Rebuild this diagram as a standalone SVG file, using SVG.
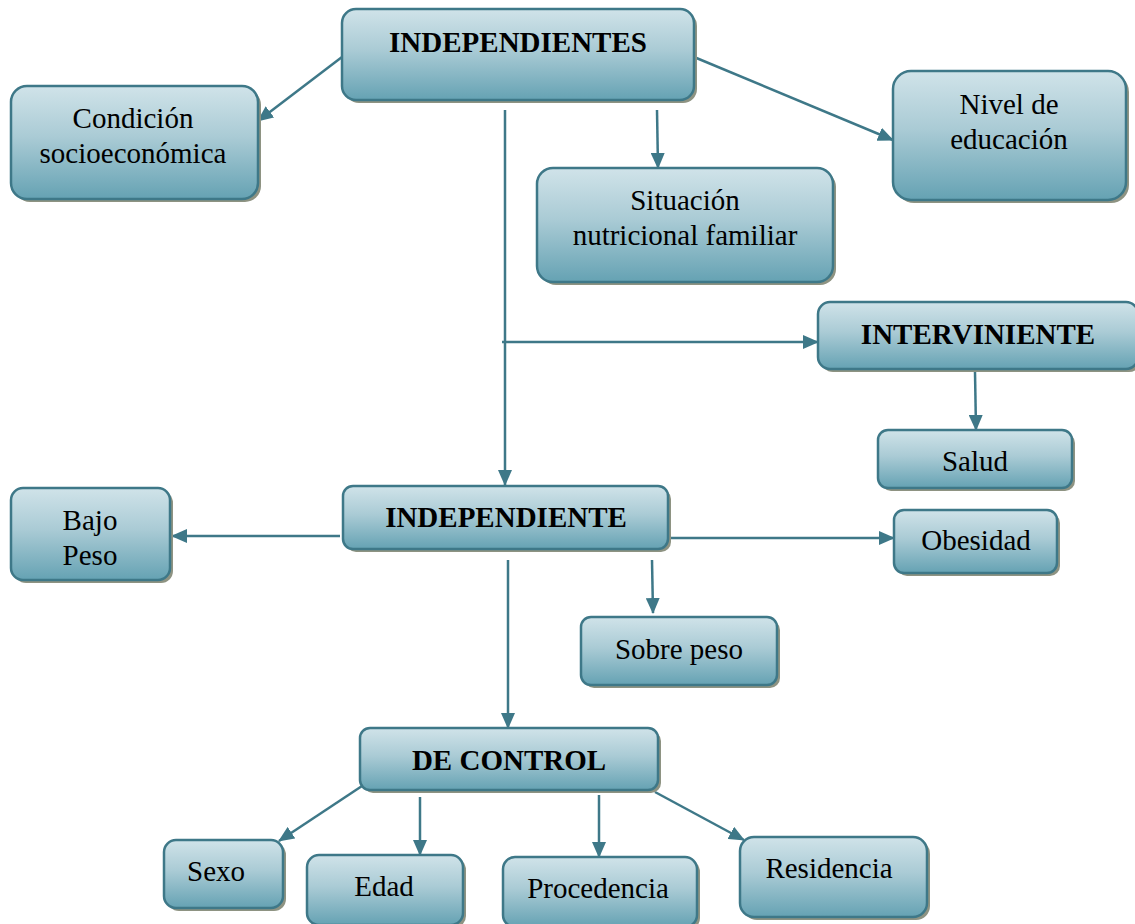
<svg xmlns="http://www.w3.org/2000/svg" width="1135" height="924" viewBox="0 0 1135 924">
<defs>
<linearGradient id="g" x1="0" y1="0" x2="0" y2="1">
<stop offset="0" stop-color="#d0e3e9"/>
<stop offset="0.45" stop-color="#aacbd5"/>
<stop offset="1" stop-color="#65a2b3"/>
</linearGradient>
<marker id="ah" markerWidth="16" markerHeight="14" refX="15" refY="7" orient="auto" markerUnits="userSpaceOnUse" viewBox="0 0 16 14">
<path d="M0,0 L16,7 L0,14 z" fill="#3e7888"/>
</marker>
</defs>
<style>
.box{fill:url(#g);stroke:#3e7888;stroke-width:2.5}
.sh{fill:#8e9382}
.t{font-family:"Liberation Serif","Times New Roman",serif;font-size:29px;fill:#000;text-anchor:middle}
.b{font-weight:bold;font-size:29px}
.c{stroke:#3e7888;stroke-width:2.5;fill:none;marker-end:url(#ah)}
</style>
<rect width="1135" height="924" fill="#fff"/>
<g id="connectors">
<line class="c" x1="342" y1="57" x2="258" y2="121"/>
<line class="c" x1="694" y1="57" x2="893" y2="140"/>
<line class="c" x1="657" y1="110" x2="658" y2="168"/>
<line class="c" x1="505" y1="110" x2="505" y2="485"/>
<line class="c" x1="502" y1="342" x2="818" y2="342"/>
<line class="c" x1="975" y1="372" x2="976" y2="430"/>
<line class="c" x1="340" y1="536" x2="172" y2="536"/>
<line class="c" x1="668" y1="538" x2="894" y2="538"/>
<line class="c" x1="652" y1="560" x2="653" y2="613"/>
<line class="c" x1="508" y1="560" x2="508" y2="728"/>
<line class="c" x1="362" y1="786" x2="279" y2="841"/>
<line class="c" x1="420" y1="797" x2="420" y2="855"/>
<line class="c" x1="599" y1="795" x2="599" y2="857"/>
<line class="c" x1="655" y1="792" x2="744" y2="840"/>
</g>
<g id="n-independientes">
<rect class="sh" x="345" y="12" width="352" height="91" rx="14"/>
<rect class="box" x="342" y="9" width="352" height="91" rx="14"/>
<text class="t b" x="518" y="52">INDEPENDIENTES</text>
</g>
<g id="n-condicion">
<rect class="sh" x="14" y="89" width="247" height="113" rx="16"/>
<rect class="box" x="11" y="86" width="247" height="113" rx="16"/>
<text class="t" x="133" y="128">Condición</text>
<text class="t" x="133" y="163">socioeconómica</text>
</g>
<g id="n-nivel">
<rect class="sh" x="896" y="74" width="233" height="129" rx="18"/>
<rect class="box" x="893" y="71" width="233" height="129" rx="18"/>
<text class="t" x="1009" y="114">Nivel de</text>
<text class="t" x="1009" y="149">educación</text>
</g>
<g id="n-situacion">
<rect class="sh" x="540" y="171" width="296" height="114" rx="16"/>
<rect class="box" x="537" y="168" width="296" height="114" rx="16"/>
<text class="t" x="685" y="210">Situación</text>
<text class="t" x="685" y="245">nutricional familiar</text>
</g>
<g id="n-interviniente">
<rect class="sh" x="821" y="305" width="320" height="67" rx="12"/>
<rect class="box" x="818" y="302" width="320" height="67" rx="12"/>
<text class="t b" x="978" y="344">INTERVINIENTE</text>
</g>
<g id="n-salud">
<rect class="sh" x="881" y="433" width="194" height="58" rx="10"/>
<rect class="box" x="878" y="430" width="194" height="58" rx="10"/>
<text class="t" x="975" y="471">Salud</text>
</g>
<g id="n-independiente">
<rect class="sh" x="346" y="489" width="325" height="63" rx="10"/>
<rect class="box" x="343" y="486" width="325" height="63" rx="10"/>
<text class="t b" x="506" y="527">INDEPENDIENTE</text>
</g>
<g id="n-bajopeso">
<rect class="sh" x="14" y="491" width="159" height="92" rx="12"/>
<rect class="box" x="11" y="488" width="159" height="92" rx="12"/>
<text class="t" x="90" y="530">Bajo</text>
<text class="t" x="90" y="565">Peso</text>
</g>
<g id="n-obesidad">
<rect class="sh" x="897" y="513" width="163" height="63" rx="10"/>
<rect class="box" x="894" y="510" width="163" height="63" rx="10"/>
<text class="t" x="976" y="550">Obesidad</text>
</g>
<g id="n-sobrepeso">
<rect class="sh" x="584" y="620" width="196" height="68" rx="10"/>
<rect class="box" x="581" y="617" width="196" height="68" rx="10"/>
<text class="t" x="679" y="659">Sobre peso</text>
</g>
<g id="n-decontrol">
<rect class="sh" x="363" y="731" width="298" height="62" rx="10"/>
<rect class="box" x="360" y="728" width="298" height="62" rx="10"/>
<text class="t b" x="509" y="770">DE CONTROL</text>
</g>
<g id="n-sexo">
<rect class="sh" x="167" y="843" width="119" height="68" rx="12"/>
<rect class="box" x="164" y="840" width="119" height="68" rx="12"/>
<text class="t" x="216" y="881">Sexo</text>
</g>
<g id="n-edad">
<rect class="sh" x="310" y="858" width="156" height="70" rx="12"/>
<rect class="box" x="307" y="855" width="156" height="70" rx="12"/>
<text class="t" x="384" y="896">Edad</text>
</g>
<g id="n-procedencia">
<rect class="sh" x="506" y="860" width="194" height="70" rx="12"/>
<rect class="box" x="503" y="857" width="194" height="70" rx="12"/>
<text class="t" x="598" y="898">Procedencia</text>
</g>
<g id="n-residencia">
<rect class="sh" x="743" y="840" width="187" height="80" rx="14"/>
<rect class="box" x="740" y="837" width="187" height="80" rx="14"/>
<text class="t" x="829" y="878">Residencia</text>
</g>
</svg>
